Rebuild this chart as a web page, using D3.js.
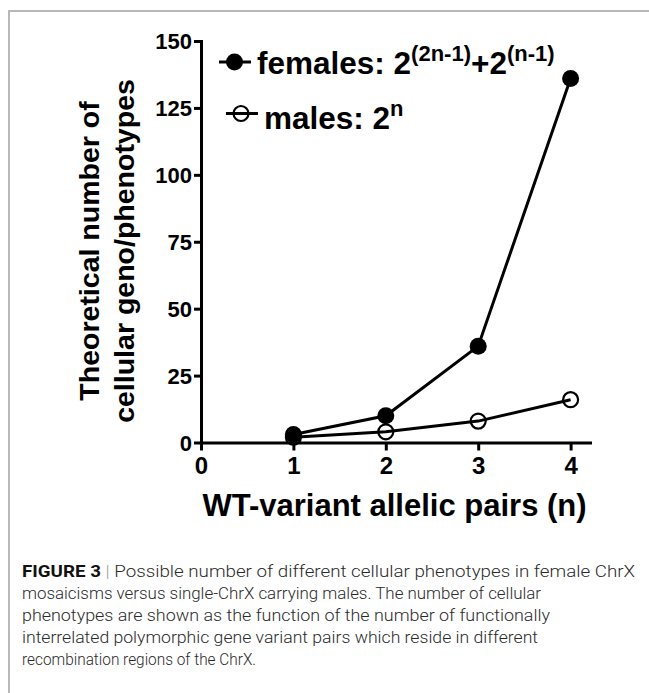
<!DOCTYPE html>
<html>
<head>
<meta charset="utf-8">
<script src="https://cdn.jsdelivr.net/npm/d3@7"></script>
<style>
  html, body { margin: 0; padding: 0; background: #fff; }
  svg { display: block; }
</style>
</head>
<body>
<div id="chart"></div>
<script>
// ---- data ----
const nValues = [1, 2, 3, 4];
const females = [3, 10, 36, 136];
const males = [2, 4, 8, 16];
const xTicks = [0, 1, 2, 3, 4];
const yTicks = [0, 25, 50, 75, 100, 125, 150];
const xTitle = "WT-variant allelic pairs (n)";
const yTitleLines = ["Theoretical number of", "cellular geno/phenotypes"];
const captionLines = [
  "mosaicisms versus single-ChrX carrying males. The number of cellular",
  "phenotypes are shown as the function of the number of functionally",
  "interrelated polymorphic gene variant pairs which reside in different",
  "recombination regions of the ChrX."
];

const W = 649, H = 693;
const FONT = "'Liberation Sans', Arial, Helvetica, sans-serif";

const svg = d3.select("#chart").append("svg").attr("width", W).attr("height", H);

// frame
svg.append("path")
  .attr("d", "M9,700 L9,11 L660,11")
  .attr("fill", "none").attr("stroke", "#b8b8b8").attr("stroke-width", 2);

const x = d3.scaleLinear().domain([0, 4.21]).range([201, 590]);
const y = d3.scaleLinear().domain([0, 150]).range([442.5, 41]);

// axes
const gx = svg.append("g").attr("transform", `translate(0,${y(0)})`)
  .call(d3.axisBottom(x).tickValues(xTicks).tickFormat(d3.format("d"))
    .tickSize(8).tickSizeOuter(0).tickPadding(6));
const gy = svg.append("g").attr("transform", `translate(${x(0)},0)`)
  .call(d3.axisLeft(y).tickValues(yTicks).tickFormat(d3.format("d"))
    .tickSize(7).tickSizeOuter(0).tickPadding(2));

[gx, gy].forEach(g => {
  g.select(".domain").attr("stroke", "#000").attr("stroke-width", 3).attr("stroke-linecap", "square");
  g.selectAll(".tick line").attr("stroke", "#000").attr("stroke-width", 3);
  g.selectAll(".tick text").attr("fill", "#000").attr("font-family", FONT).attr("font-weight", "bold");
});
gx.selectAll(".tick text").attr("font-size", 24).attr("dy", "0.72em");
gy.selectAll(".tick text").attr("font-size", 22).attr("dy", "0.36em");

// x title
svg.append("text")
  .attr("x", 394.5).attr("y", 516)
  .attr("text-anchor", "middle")
  .attr("font-family", FONT).attr("font-weight", "bold").attr("font-size", 31)
  .attr("fill", "#000")
  .text(xTitle);

// y title
const yt = svg.append("text")
  .attr("transform", "rotate(-90)")
  .attr("text-anchor", "middle")
  .attr("font-family", FONT).attr("font-weight", "bold").attr("font-size", 28.5)
  .attr("fill", "#000");
yTitleLines.forEach((t, i) => {
  yt.append("tspan").attr("x", -251).attr("y", i === 0 ? 99 : 134).text(t);
});

// lines
const line = d3.line().x(d => x(d[0])).y(d => y(d[1]));
const femData = nValues.map((n, i) => [n, females[i]]);
const maleData = nValues.map((n, i) => [n, males[i]]);

svg.append("path").datum(maleData).attr("d", line)
  .attr("fill", "none").attr("stroke", "#000").attr("stroke-width", 3);
svg.append("path").datum(femData).attr("d", line)
  .attr("fill", "none").attr("stroke", "#000").attr("stroke-width", 3);

svg.selectAll("circle.m").data(maleData).enter().append("circle")
  .attr("class", "m")
  .attr("cx", d => x(d[0])).attr("cy", d => y(d[1])).attr("r", 7.5)
  .attr("fill", "none").attr("stroke", "#000").attr("stroke-width", 2.2);
svg.selectAll("circle.f").data(femData).enter().append("circle")
  .attr("class", "f")
  .attr("cx", d => x(d[0])).attr("cy", d => y(d[1])).attr("r", 8.5)
  .attr("fill", "#000");

// legend
const lg = svg.append("g");
lg.append("line").attr("x1", 219).attr("x2", 251).attr("y1", 62).attr("y2", 62)
  .attr("stroke", "#000").attr("stroke-width", 3);
lg.append("circle").attr("cx", 234.5).attr("cy", 62).attr("r", 8.5).attr("fill", "#000");
lg.append("line").attr("x1", 226).attr("x2", 258).attr("y1", 113.5).attr("y2", 113.5)
  .attr("stroke", "#000").attr("stroke-width", 3);
lg.append("circle").attr("cx", 241).attr("cy", 113.5).attr("r", 7.5)
  .attr("fill", "none").attr("stroke", "#000").attr("stroke-width", 2.2);

const lf = lg.append("text").attr("x", 257).attr("y", 73.5)
  .attr("font-family", FONT).attr("font-weight", "bold").attr("font-size", 31.5).attr("fill", "#000");
lf.append("tspan").text("females: 2");
lf.append("tspan").attr("font-size", 22).attr("dy", -13).text("(2n-1)");
lf.append("tspan").attr("dy", 13).text("+2");
lf.append("tspan").attr("font-size", 22).attr("dy", -13).text("(n-1)");

const lm = lg.append("text").attr("x", 264).attr("y", 128.5)
  .attr("font-family", FONT).attr("font-weight", "bold").attr("font-size", 31.5).attr("fill", "#000");
lm.append("tspan").text("males: 2");
lm.append("tspan").attr("font-size", 22).attr("dy", -13).text("n");

// caption
const CFONT = "Roboto, 'Liberation Sans', Arial, sans-serif";
const c1 = svg.append("text").attr("x", 22).attr("y", 577)
  .attr("font-family", CFONT).attr("font-weight", 300).attr("font-size", 16).attr("fill", "#2a2a2a")
  .attr("textLength", 613).attr("lengthAdjust", "spacingAndGlyphs");
c1.append("tspan").attr("font-weight", "bold").attr("fill", "#111").text("FIGURE 3");
c1.append("tspan").attr("fill", "#999").text(" | ");
c1.append("tspan").text("Possible number of different cellular phenotypes in female ChrX");

const capW = [519, 528, 516, 234];
captionLines.forEach((t, i) => {
  svg.append("text").attr("x", 22).attr("y", 577 + 22 * (i + 1))
    .attr("font-family", CFONT).attr("font-weight", 300).attr("font-size", 16).attr("fill", "#2a2a2a")
    .attr("textLength", capW[i]).attr("lengthAdjust", "spacingAndGlyphs")
    .text(t);
});
</script>
</body>
</html>
